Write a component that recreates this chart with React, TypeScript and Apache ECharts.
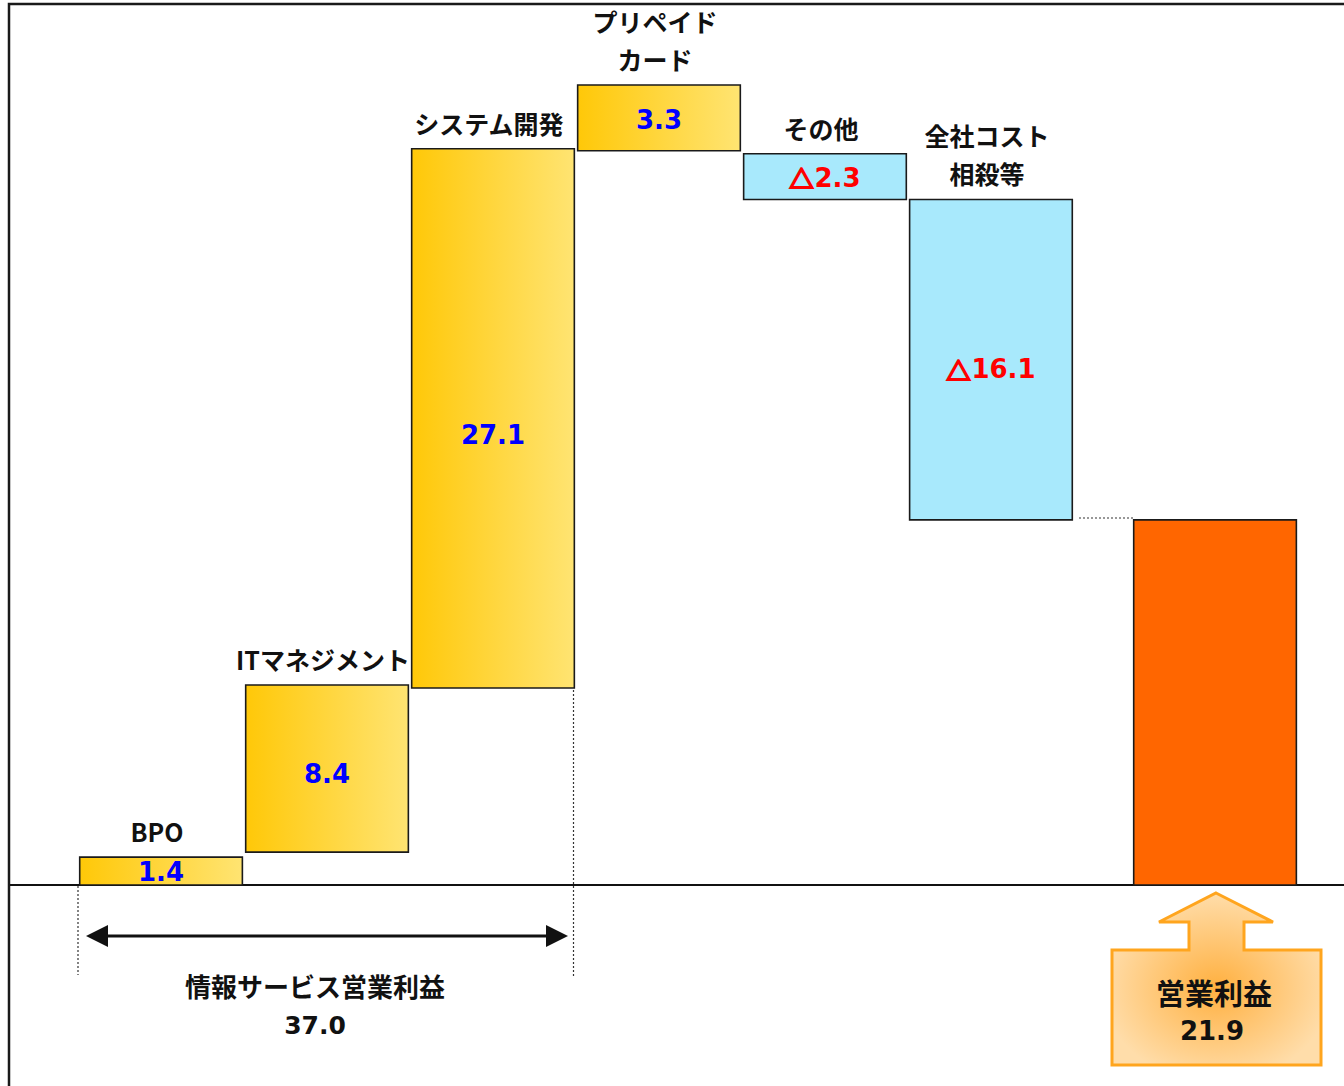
import React, { useEffect, useRef } from "react";
import * as echarts from "echarts";

// ---- data ----
const categories = ["BPO", "ITマネジメント", "システム開発", "プリペイド\nカード", "その他", "全社コスト\n相殺等", ""];
const xPositions = [0, 1, 2, 3, 4, 5, 6.35];
const barBases = [0, 1.65, 9.9, 36.9, 34.45, 18.35, 0];
const barSizes = [1.4, 8.4, 27.1, 3.3, 2.3, 16.1, 18.35];
const valueLabels = ["1.4", "8.4", "27.1", "3.3", "△2.3", "△16.1", ""];
const barKinds = ["up", "up", "up", "up", "down", "down", "total"];
const subtotalTitle = "情報サービス営業利益";
const subtotalValue = "37.0";
const totalTitle = "営業利益";
const totalValue = "21.9";

const FONT = "'Noto Sans CJK JP', 'Noto Sans', sans-serif";
const NUMFONT = "'DejaVu Sans', 'Noto Sans CJK JP', sans-serif";

export default function App() {
  const ref = useRef<HTMLDivElement>(null);

  useEffect(() => {
    if (!ref.current) return;
    const chart = echarts.init(ref.current, null, { renderer: "svg" });

    const yellow = new echarts.graphic.LinearGradient(0, 0, 1, 0, [
      { offset: 0, color: "#FFC808" },
      { offset: 1, color: "#FFE472" },
    ]);
    const fills: Record<string, any> = {
      up: yellow,
      down: "#A8E9FC",
      total: "#FF6600",
    };

    const data = xPositions.map((x, i) => [x, barBases[i], barBases[i] + barSizes[i], i]);

    const option: any = {
      animation: false,
      grid: { left: 9, right: 0, top: 9.4, bottom: 21.9 },
      xAxis: {
        type: "value",
        min: -0.916,
        max: 7.127,
        axisLine: { show: true, onZero: true, lineStyle: { color: "#111", width: 2 } },
        axisTick: { show: false },
        axisLabel: { show: false },
        splitLine: { show: false },
      },
      yAxis: {
        type: "value",
        min: -9,
        max: 44,
        show: false,
        splitLine: { show: false },
      },
      series: [
        {
          type: "custom",
          encode: { x: 0, y: [1, 2] },
          data,
          z: 3,
          renderItem: (params: any, api: any) => {
            const x = api.value(0);
            const lo = api.value(1);
            const hi = api.value(2);
            const i = api.value(3);
            const p0 = api.coord([x - 0.49, hi]);
            const p1 = api.coord([x + 0.49, lo]);
            const w = p1[0] - p0[0];
            const h = p1[1] - p0[1];
            const kind = barKinds[i];
            const cx = p0[0] + w / 2;
            const children: any[] = [
              {
                type: "rect",
                shape: { x: p0[0], y: p0[1], width: w, height: h },
                style: { fill: fills[kind], stroke: "#1a1a1a", lineWidth: 1.6 },
              },
            ];
            const lbl = valueLabels[i];
            if (lbl) {
              const color = kind === "down" ? "#FF0000" : "#0000FF";
              const hasTri = lbl.charAt(0) === "△";
              children.push({
                type: "text",
                style: {
                  text: hasTri ? "{t|△}{n|" + lbl.slice(1) + "}" : "{n|" + lbl + "}",
                  x: cx,
                  y: p0[1] + h * 0.53,
                  align: "center",
                  verticalAlign: "middle",
                  rich: {
                    t: {
                      fill: color,
                      stroke: color,
                      lineWidth: 2,
                      fontSize: 24,
                      fontWeight: "bold",
                      fontFamily: FONT,
                      padding: [0, 1, 0, 0],
                    },
                    n: {
                      fill: color,
                      fontSize: 26,
                      fontWeight: "bold",
                      fontFamily: NUMFONT,
                    },
                  },
                },
              });
            }
            if (categories[i]) {
              children.push({
                type: "text",
                style: {
                  text: categories[i],
                  x: cx - 4,
                  y: p0[1] - 7,
                  align: "center",
                  verticalAlign: "bottom",
                  lineHeight: 38,
                  fill: "#111",
                  fontSize: 25,
                  fontWeight: "bold",
                  fontFamily: FONT,
                },
              });
            }
            return { type: "group", children };
          },
        },
      ],
      graphic: [
        // frame
        {
          type: "rect",
          shape: { x: 9, y: 4, width: 1400, height: 1200 },
          style: { fill: "none", stroke: "#1a1a1a", lineWidth: 2.5 },
          z: 10,
        },
        // dotted guides
        {
          type: "line",
          shape: { x1: 78, y1: 886, x2: 78, y2: 975 },
          style: { stroke: "#333", lineWidth: 1.2, lineDash: [2, 2] },
        },
        {
          type: "line",
          shape: { x1: 573.5, y1: 690, x2: 573.5, y2: 977 },
          style: { stroke: "#333", lineWidth: 1.2, lineDash: [2, 2] },
        },
        {
          type: "line",
          shape: { x1: 1079, y1: 518, x2: 1133, y2: 518 },
          style: { stroke: "#333", lineWidth: 1.2, lineDash: [2, 2] },
        },
        // double-headed arrow
        {
          type: "line",
          shape: { x1: 100, y1: 936, x2: 555, y2: 936 },
          style: { stroke: "#111", lineWidth: 3 },
        },
        {
          type: "polygon",
          shape: { points: [[86, 936], [108, 925], [108, 947]] },
          style: { fill: "#111" },
        },
        {
          type: "polygon",
          shape: { points: [[568, 936], [546, 925], [546, 947]] },
          style: { fill: "#111" },
        },
        {
          type: "text",
          style: {
            text: subtotalTitle,
            x: 315,
            y: 985,
            align: "center",
            verticalAlign: "middle",
            fill: "#111",
            fontSize: 26,
            fontWeight: "bold",
            fontFamily: FONT,
          },
        },
        {
          type: "text",
          style: {
            text: subtotalValue,
            x: 315,
            y: 1025,
            align: "center",
            verticalAlign: "middle",
            fill: "#111",
            fontSize: 25,
            fontWeight: "bold",
            fontFamily: NUMFONT,
          },
        },
        // orange up-arrow box
        {
          type: "polygon",
          shape: {
            points: [
              [1216, 893], [1273, 922], [1244, 922], [1244, 950], [1321, 950], [1321, 1065],
              [1112, 1065], [1112, 950], [1189, 950], [1189, 922], [1159, 922],
            ],
          },
          style: {
            fill: new echarts.graphic.RadialGradient(0.5, 0.55, 0.55, [
              { offset: 0, color: "#FFB040" },
              { offset: 1, color: "#FFDDAA" },
            ]),
            stroke: "#FFA51E",
            lineWidth: 3,
          },
        },
        {
          type: "text",
          style: {
            text: totalTitle,
            x: 1214,
            y: 992,
            align: "center",
            verticalAlign: "middle",
            fill: "#111",
            fontSize: 29,
            fontWeight: "bold",
            fontFamily: FONT,
          },
        },
        {
          type: "text",
          style: {
            text: totalValue,
            x: 1212,
            y: 1031,
            align: "center",
            verticalAlign: "middle",
            fill: "#111",
            fontSize: 26,
            fontWeight: "bold",
            fontFamily: NUMFONT,
          },
        },
      ],
    };

    chart.setOption(option);
    return () => chart.dispose();
  }, []);

  return (
    <div
      ref={ref}
      style={{ position: "absolute", left: 0, top: 0, width: 1344, height: 1086, background: "#fff" }}
    />
  );
}
